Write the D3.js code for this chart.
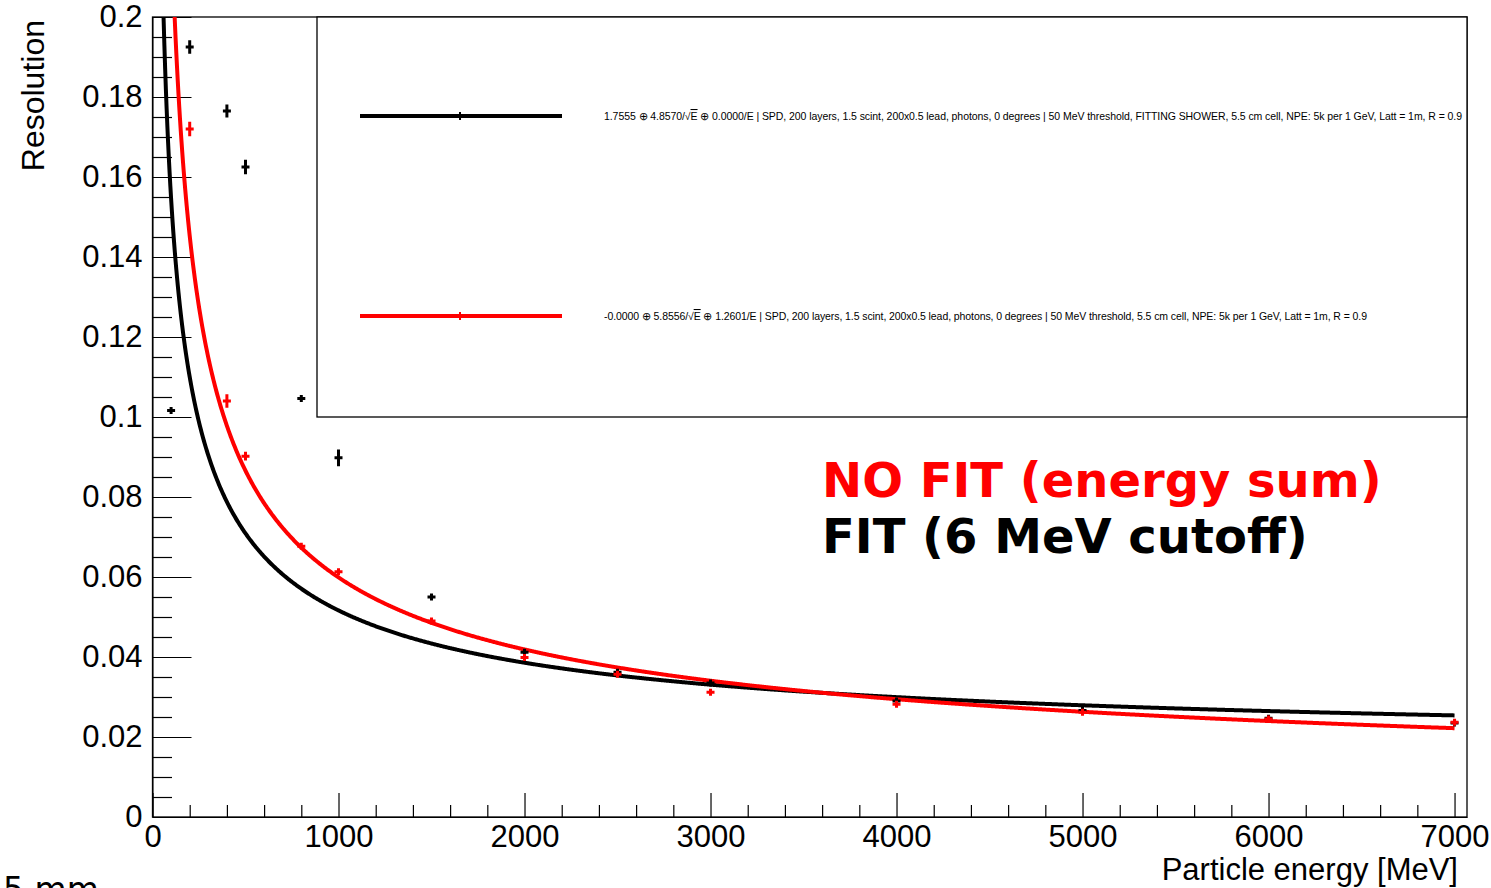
<!DOCTYPE html>
<html>
<head>
<meta charset="utf-8">
<script src="https://cdn.jsdelivr.net/npm/d3@7"></script>
<style>
  html, body { margin: 0; padding: 0; background: #fff; }
  svg { display: block; }
</style>
</head>
<body>
<script>
// Measured energy resolution, FIT (6 MeV cutoff), black series
const fitEnergy = [100, 200, 400, 500, 800, 1000, 1500, 2000, 2500, 3000, 4000, 5000, 6000, 7000];
const fitRes    = [0.1016, 0.1925, 0.1765, 0.1625, 0.1046, 0.0898, 0.0550, 0.0412, 0.0362, 0.0335, 0.0290, 0.0266, 0.0247, 0.0235];
const fitErr    = [0.0004, 0.0017, 0.0016, 0.0018, 0.0004, 0.0021, 0.0004, 0.0008, 0.0005, 0.0005, 0.0006, 0.0005, 0.0005, 0.0006];

// Energy-sum resolution (no fit), red series
const sumEnergy = [200, 400, 500, 800, 1000, 1500, 2000, 2500, 3000, 4000, 5000, 6000, 7000];
const sumRes    = [0.1720, 0.1040, 0.0902, 0.0677, 0.0613, 0.0490, 0.0399, 0.0357, 0.0312, 0.0282, 0.0262, 0.0245, 0.0237];
const sumErr    = [0.0018, 0.0017, 0.0011, 0.0008, 0.0008, 0.0006, 0.0006, 0.0005, 0.0005, 0.0005, 0.0005, 0.0005, 0.0005];

// Resolution fit parameters a ⊕ b/√E ⊕ c/E (percent, E in GeV)
const fitParams = [1.7555, 4.8570, 0.0000];
const sumParams = [-0.0000, 5.8556, 1.2601];

// Axis ticks
const xMajorTicks = [0, 1000, 2000, 3000, 4000, 5000, 6000, 7000];
const yMajorTicks = [0, 0.02, 0.04, 0.06, 0.08, 0.1, 0.12, 0.14, 0.16, 0.18, 0.2];
const yTickLabels = ["0", "0.02", "0.04", "0.06", "0.08", "0.1", "0.12", "0.14", "0.16", "0.18", "0.2"];

// Legend entries
const legendFormula = [
  ["1.7555 ⊕ 4.8570/", "E", " ⊕ 0.0000/E  | SPD, 200 layers, 1.5 scint, 200x0.5 lead, photons, 0 degrees | 50 MeV threshold, FITTING SHOWER, 5.5 cm cell, NPE: 5k per 1 GeV, Latt = 1m, R = 0.9"],
  ["-0.0000 ⊕ 5.8556/", "E", " ⊕ 1.2601/E | SPD, 200 layers, 1.5 scint, 200x0.5 lead, photons, 0 degrees | 50 MeV threshold, 5.5 cm cell, NPE: 5k per 1 GeV, Latt = 1m, R = 0.9"]
];
const legendTextWidth = [858, 763];

const W = 1491, H = 888;
const frame = { left: 152.5, right: 1467, top: 17, bottom: 817 };

const svg = d3.select("body").append("svg").attr("width", W).attr("height", H);

const x = d3.scaleLinear().domain([0, 7067]).range([frame.left, frame.right]);
const y = d3.scaleLinear().domain([0, 0.2]).range([frame.bottom, frame.top]);

const axisFont = "'Liberation Sans', Arial, Helvetica, sans-serif";

// clip region for the curves
svg.append("defs").append("clipPath").attr("id", "plotClip")
  .append("rect")
  .attr("x", frame.left).attr("y", frame.top)
  .attr("width", frame.right - frame.left).attr("height", frame.bottom - frame.top);

// ---- axes ----
const xMinor = d3.range(0, 7067, 200).filter(v => v % 1000 !== 0);
const yMinor = d3.range(0, 0.2001, 0.005).filter(v => Math.abs(v / 0.02 - Math.round(v / 0.02)) > 1e-6);

const gx = svg.append("g").attr("transform", `translate(0,${frame.bottom})`);
gx.call(d3.axisBottom(x).tickValues(xMinor).tickSizeInner(-12).tickSizeOuter(0).tickFormat(""));
gx.call(g => g.selectAll(".tick line").attr("stroke-width", 1.2));
const gx2 = svg.append("g").attr("transform", `translate(0,${frame.bottom})`);
gx2.call(d3.axisBottom(x).tickValues(xMajorTicks).tickSizeInner(-24).tickSizeOuter(0).tickPadding(8).tickFormat(d3.format("d")));
gx2.select(".domain").remove();
gx2.selectAll(".tick line").attr("stroke-width", 1.2);
gx2.selectAll("text").attr("font-size", 31).attr("font-family", axisFont).attr("fill", "#000");

const gy = svg.append("g").attr("transform", `translate(${frame.left},0)`);
gy.call(d3.axisLeft(y).tickValues(yMinor).tickSizeInner(-19.5).tickSizeOuter(0).tickFormat(""));
gy.selectAll(".tick line").attr("stroke-width", 1.2);
const gy2 = svg.append("g").attr("transform", `translate(${frame.left},0)`);
gy2.call(d3.axisLeft(y).tickValues(yMajorTicks).tickSizeInner(-39).tickSizeOuter(0).tickPadding(10)
  .tickFormat((d, i) => yTickLabels[i]));
gy2.select(".domain").remove();
gy2.selectAll(".tick line").attr("stroke-width", 1.2);
gy2.selectAll("text").attr("font-size", 31).attr("font-family", axisFont).attr("fill", "#000");

// frame
svg.append("rect")
  .attr("x", frame.left).attr("y", frame.top)
  .attr("width", frame.right - frame.left).attr("height", frame.bottom - frame.top)
  .attr("fill", "none").attr("stroke", "#000").attr("stroke-width", 1.3);

// axis titles
svg.append("text")
  .attr("transform", "translate(44,20) rotate(-90)")
  .attr("text-anchor", "end")
  .attr("font-family", axisFont).attr("font-size", 32)
  .text("Resolution");
svg.append("text")
  .attr("x", 1458).attr("y", 880)
  .attr("text-anchor", "end")
  .attr("font-family", axisFont).attr("font-size", 31)
  .text("Particle energy [MeV]");

// ---- legend box ----
const legend = { left: 317, top: 17, right: 1467, bottom: 417 };
svg.append("rect")
  .attr("x", legend.left).attr("y", legend.top)
  .attr("width", legend.right - legend.left).attr("height", legend.bottom - legend.top)
  .attr("fill", "#fff").attr("stroke", "#000").attr("stroke-width", 1.3);

const legendColors = ["#000", "#ff0000"];
const legendY = [116, 316];
legendY.forEach((ly, i) => {
  svg.append("line").attr("x1", 360).attr("x2", 562).attr("y1", ly).attr("y2", ly)
    .attr("stroke", legendColors[i]).attr("stroke-width", 4);
  svg.append("path").attr("d", `M456,${ly}H464M460,${ly - 4}V${ly + 4}`)
    .attr("stroke", legendColors[i]).attr("stroke-width", 2);
  const t = svg.append("text")
    .attr("x", 604).attr("y", ly + 4)
    .attr("font-family", axisFont).attr("font-size", 10.5)
    .attr("textLength", legendTextWidth[i]).attr("lengthAdjust", "spacing");
  t.append("tspan").text(legendFormula[i][0] + "√");
  t.append("tspan").style("text-decoration", "overline").text(legendFormula[i][1]);
  t.append("tspan").text(legendFormula[i][2]);
});

// ---- fit curves ----
function resolutionCurve(p) {
  // sqrt(a^2 + b^2/E + c^2/E^2) in percent, E in GeV
  return E => {
    const g = E / 1000;
    return Math.sqrt(p[0] * p[0] + p[1] * p[1] / g + p[2] * p[2] / (g * g)) / 100;
  };
}
const grid = d3.range(20, 7000, 4).concat([7000]);
const curve = d3.line().x(d => x(d[0])).y(d => y(d[1]));
const plot = svg.append("g").attr("clip-path", "url(#plotClip)");

const fitFn = resolutionCurve(fitParams);
const sumFn = resolutionCurve(sumParams);
plot.append("path")
  .attr("d", curve(grid.map(E => [E, Math.min(fitFn(E), 0.3)])))
  .attr("fill", "none").attr("stroke", "#000").attr("stroke-width", 4);
plot.append("path")
  .attr("d", curve(grid.map(E => [E, Math.min(sumFn(E), 0.3)])))
  .attr("fill", "none").attr("stroke", "#ff0000").attr("stroke-width", 4);

// ---- data points with error bars ----
function drawPoints(energies, values, errors, color) {
  const g = plot.append("g").attr("stroke", color).attr("stroke-width", 3).attr("fill", "none");
  energies.forEach((E, i) => {
    const cx = x(E), cy = y(values[i]);
    const y0 = y(values[i] - errors[i]), y1 = y(values[i] + errors[i]);
    g.append("path")
      .attr("d", `M${cx - 4},${cy}H${cx + 4}M${cx},${Math.min(y1, cy - 3.5)}V${Math.max(y0, cy + 3.5)}`);
  });
}
drawPoints(fitEnergy, fitRes, fitErr, "#000");
drawPoints(sumEnergy, sumRes, sumErr, "#ff0000");

// ---- annotations ----
const noteFont = "'DejaVu Sans', Verdana, sans-serif";
svg.append("text").attr("x", 822).attr("y", 497)
  .attr("font-family", noteFont).attr("font-weight", "bold").attr("font-size", 48)
  .attr("fill", "#ff0000").text("NO FIT (energy sum)");
svg.append("text").attr("x", 822).attr("y", 553)
  .attr("font-family", noteFont).attr("font-weight", "bold").attr("font-size", 48)
  .attr("fill", "#000").text("FIT (6 MeV cutoff)");

svg.append("text").attr("x", 3).attr("y", 901)
  .attr("font-family", noteFont).attr("font-size", 33)
  .attr("fill", "#000").text("5 mm");
</script>
</body>
</html>
